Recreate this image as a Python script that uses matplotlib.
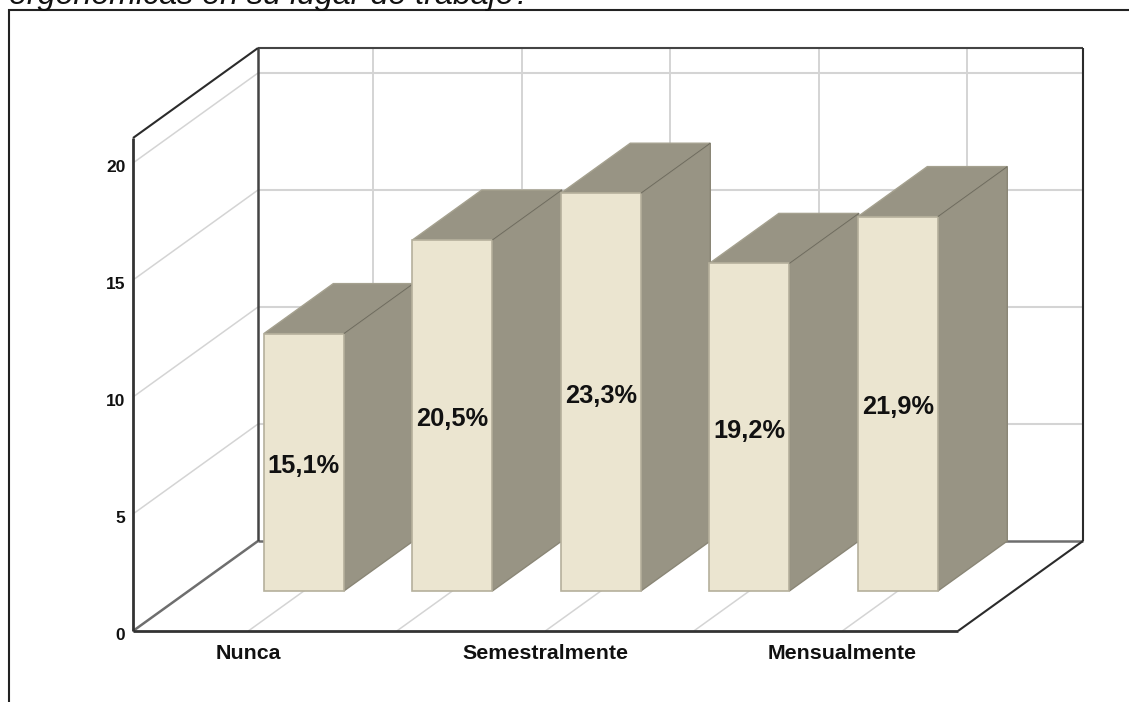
# Bar chart drawn as a fake 3D box (SPSS style)
import matplotlib
matplotlib.use("Agg")
import matplotlib.pyplot as plt
from matplotlib.patches import Polygon, Rectangle
from matplotlib.transforms import ScaledTranslation

categories = ["Nunca", "", "Semestralmente", "", "Mensualmente"]
counts = [11, 15, 17, 14, 16]
percent_labels = ["15,1%", "20,5%", "23,3%", "19,2%", "21,9%"]
y_ticks = [0, 5, 10, 15, 20]
title_text = "ergonómicas en su lugar de trabajo?"

W, H = 1129, 702
DPI = 100

# box size in data units (1 x unit = 148.5 px, 1 y unit = 23.4 px)
UX = 148.5
UY = 23.4
X_MIN = (133 - 248.3) / UX
X_MAX = (958 - 248.3) / UX
Y_MAX = 493 / UY
DX = 125 / UX  # depth of the floor, x part
DY = 90 / UY   # depth of the floor, y part
BAR_W = 80 / UX
BAR_D0 = 40 / 90  # where the bars start in the depth

FRONT = "#ebe5d0"
SIDE = "#989484"
EDGE = "#b5b09c"
DIAG = "#706d60"
GRID = "#d4d4d4"
DARK = "#2b2b2b"
GRAY = "#6e6e6e"

plt.rcParams["font.family"] = ["Liberation Sans", "DejaVu Sans"]

fig = plt.figure(figsize=(W / DPI, H / DPI), dpi=DPI)
ax = fig.add_axes([133 / W, 1 - 631 / H, (958 - 133) / W, 493 / H])
ax.set_xlim(X_MIN, X_MAX)
ax.set_ylim(0, Y_MAX)
for s in ax.spines.values():
    s.set_visible(False)


def proj(x, y, d):
    # d = 0 is the front of the floor, d = 1 the back wall
    return x + d * DX, y + d * DY


def line(p0, p1, color, lw, z=1):
    ax.plot([p0[0], p1[0]], [p0[1], p1[1]], color=color, lw=lw, zorder=z,
            clip_on=False, solid_capstyle="butt")


# gridlines on the back and left walls, and on the floor
for v in y_ticks[1:]:
    line(proj(X_MIN, v, 0), proj(X_MIN, v, 1), GRID, 1.1)
    line(proj(X_MIN, v, 1), proj(X_MAX, v, 1), GRID, 1.5)
for i in range(len(categories)):
    line(proj(i, 0, 0), proj(i, 0, 1), GRID, 1.1)
    line(proj(i, 0, 1), proj(i, Y_MAX, 1), GRID, 1.4)

# box outline
line(proj(X_MIN, 0, 1), proj(X_MAX, 0, 1), GRAY, 1.8, 2)
line(proj(X_MIN, 0, 0), proj(X_MIN, 0, 1), GRAY, 1.8, 2)
line(proj(X_MIN, 0, 1), proj(X_MIN, Y_MAX, 1), "#444444", 1.8, 2)
line(proj(X_MIN, Y_MAX, 1), proj(X_MAX, Y_MAX, 1), "#444444", 1.5, 2)
line(proj(X_MAX, 0, 1), proj(X_MAX, Y_MAX, 1), DARK, 1.5, 2)
line(proj(X_MIN, Y_MAX, 0), proj(X_MIN, Y_MAX, 1), DARK, 1.5, 2)
line(proj(X_MIN, 0, 0), proj(X_MIN, Y_MAX, 0), "#333333", 2, 2)
line(proj(X_MIN, 0, 0), proj(X_MAX, 0, 0), "#333333", 2, 2)
line(proj(X_MAX, 0, 0), proj(X_MAX, 0, 1), DARK, 1.5, 2)

# bars, left to right so each front covers the side of the one before
for i, v in enumerate(counts):
    z = 3 + i
    l = i - BAR_W / 2
    r = i + BAR_W / 2
    side = [proj(r, 0, BAR_D0), proj(r, 0, 1), proj(r, v, 1), proj(r, v, BAR_D0)]
    top = [proj(l, v, BAR_D0), proj(r, v, BAR_D0), proj(r, v, 1), proj(l, v, 1)]
    front = [proj(l, 0, BAR_D0), proj(r, 0, BAR_D0), proj(r, v, BAR_D0), proj(l, v, BAR_D0)]
    ax.add_patch(Polygon(side, fc=SIDE, ec="#8a8676", lw=1, zorder=z, clip_on=False))
    ax.add_patch(Polygon(top, fc=SIDE, ec="#a5a18f", lw=1, zorder=z, clip_on=False))
    ax.add_patch(Polygon(front, fc=FRONT, ec=EDGE, lw=1.2, zorder=z, clip_on=False))
    line(proj(r, v, BAR_D0), proj(r, v, 1), DIAG, 0.8, z)

# percent labels in the middle of the bar front
for i, v in enumerate(counts):
    x, y = proj(i, v / 2, BAR_D0)
    ax.text(x, y - 3.5 / UY, percent_labels[i], ha="center", va="center",
            fontsize=18.3, fontweight="bold", color="#111111", zorder=20, clip_on=False)

ax.set_xticks(range(len(categories)))
ax.set_xticklabels(categories, fontsize=15.4, fontweight="bold", color="#111111")
ax.set_yticks(y_ticks)
ax.set_yticklabels([str(t) for t in y_ticks], fontsize=12.5, fontweight="bold", color="#111111")
ax.tick_params(axis="both", length=0)
ax.tick_params(axis="x", pad=9.5)
ax.tick_params(axis="y", pad=5.5)
down = ScaledTranslation(0, -0.03, fig.dpi_scale_trans)
for lab in ax.get_yticklabels():
    lab.set_transform(lab.get_transform() + down)

# outer frame of the chart, it runs off the right and bottom of the image
fig.add_artist(Rectangle((8.5 / W, -0.1), 1.2, 1.1 - 10 / H, fc="none", ec="#222222", lw=1.5,
                         transform=fig.transFigure))

# caption above the frame, cut by the top of the image
fig.text(9 / W, 1 - 4 / H, title_text, fontsize=23.2, style="italic", color="#111111",
         ha="left", va="baseline")

fig.savefig("out.png", dpi=DPI)
